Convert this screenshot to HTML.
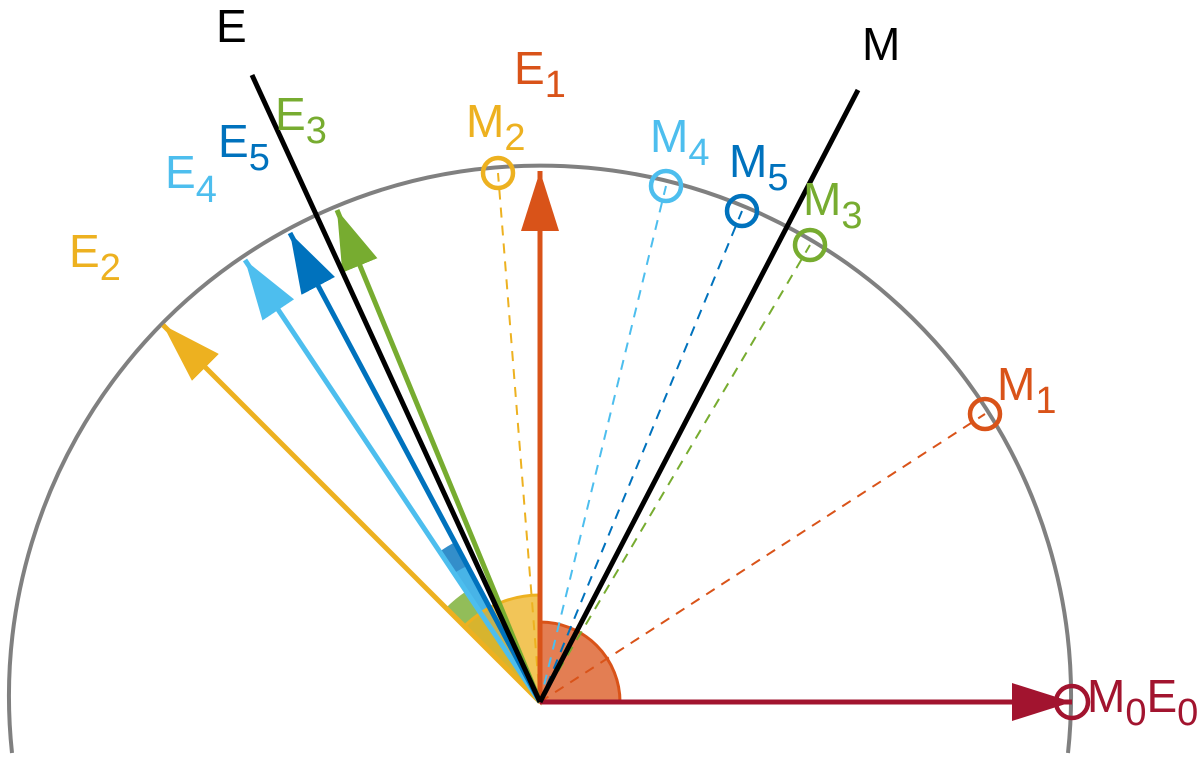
<!DOCTYPE html>
<html><head><meta charset="utf-8"><style>html,body{margin:0;padding:0;background:#fff}svg{display:block}</style></head>
<body>
<svg width="1200" height="765" viewBox="0 0 1200 765" xmlns="http://www.w3.org/2000/svg" font-family="Liberation Sans, Arial, sans-serif">
<defs>
<marker id="a0" markerUnits="userSpaceOnUse" markerWidth="62" markerHeight="38" refX="60" refY="19" orient="auto"><path d="M0,0 L60,19 L0,38 z" fill="#a2142f"/></marker>
<marker id="a1" markerUnits="userSpaceOnUse" markerWidth="62" markerHeight="38" refX="60" refY="19" orient="auto"><path d="M0,0 L60,19 L0,38 z" fill="#d95319"/></marker>
<marker id="a2" markerUnits="userSpaceOnUse" markerWidth="62" markerHeight="38" refX="60" refY="19" orient="auto"><path d="M0,0 L60,19 L0,38 z" fill="#edb120"/></marker>
<marker id="a3" markerUnits="userSpaceOnUse" markerWidth="62" markerHeight="38" refX="60" refY="19" orient="auto"><path d="M0,0 L60,19 L0,38 z" fill="#77ac30"/></marker>
<marker id="a4" markerUnits="userSpaceOnUse" markerWidth="62" markerHeight="38" refX="60" refY="19" orient="auto"><path d="M0,0 L60,19 L0,38 z" fill="#4dbeee"/></marker>
<marker id="a5" markerUnits="userSpaceOnUse" markerWidth="62" markerHeight="38" refX="60" refY="19" orient="auto"><path d="M0,0 L60,19 L0,38 z" fill="#0072bd"/></marker>
</defs>

<path d="M12,753 A531,531 0 1 1 1068,753" fill="none" stroke="#808080" stroke-width="4"/>

<path d="M540,702 L454.7,542.3 A181,181 0 0 0 439.6,551.5 Z" fill="#0072bd" fill-opacity="0.8"/>
<path d="M540,702 L467.4,565.8 A155,155 0 0 0 454.0,573.1 Z" fill="#4dbeee" fill-opacity="0.8"/>
<path d="M540,702 L466.2,591.3 A133,133 0 0 0 445.6,608.3 Z" fill="#77ac30" fill-opacity="0.8"/>
<path d="M540,702 L540,595 A107,107 0 0 0 464.6,626.1 Z" fill="#edb120" fill-opacity="0.75" stroke="#edb120" stroke-width="3"/>
<path d="M540,702 L620,702 A80,80 0 0 0 540,622 Z" fill="#d95319" fill-opacity="0.75" stroke="#d95319" stroke-width="3"/>

<g stroke-width="2" stroke-dasharray="10,8" fill="none">
<line x1="540" y1="702" x2="498" y2="173" stroke="#edb120"/>
<line x1="540" y1="702" x2="666" y2="186" stroke="#4dbeee"/>
<line x1="540" y1="702" x2="742" y2="211" stroke="#0072bd"/>
<line x1="540" y1="702" x2="810" y2="245" stroke="#77ac30"/>
<line x1="540" y1="702" x2="985" y2="414" stroke="#d95319"/>
</g>

<g stroke-width="5" fill="none">
<line x1="540" y1="702" x2="1072" y2="702" stroke="#a2142f" marker-end="url(#a0)"/>
<line x1="540" y1="702" x2="540" y2="171" stroke="#d95319" marker-end="url(#a1)"/>
<line x1="540" y1="702" x2="163" y2="325" stroke="#edb120" marker-end="url(#a2)"/>
<line x1="540" y1="702" x2="245" y2="260" stroke="#4dbeee" marker-end="url(#a4)"/>
<line x1="540" y1="702" x2="290" y2="233" stroke="#0072bd" marker-end="url(#a5)"/>
<line x1="540" y1="702" x2="337" y2="210" stroke="#77ac30" marker-end="url(#a3)"/>
</g>

<line x1="540" y1="702" x2="252" y2="75" stroke="#000" stroke-width="5"/>
<line x1="540" y1="702" x2="858" y2="90" stroke="#000" stroke-width="5"/>

<g fill="none" stroke-width="4.5">
<circle cx="498" cy="173" r="15" stroke="#edb120"/>
<circle cx="666" cy="186" r="15" stroke="#4dbeee"/>
<circle cx="742" cy="211" r="15" stroke="#0072bd"/>
<circle cx="810" cy="245" r="15" stroke="#77ac30"/>
<circle cx="985" cy="414" r="15" stroke="#d95319"/>
<circle cx="1072" cy="702" r="16" stroke="#a2142f"/>
</g>

<g font-size="46">
<text x="216" y="42" fill="#000">E</text>
<text x="862" y="60" fill="#000">M</text>
<text x="514" y="84" fill="#d95319">E<tspan font-size="38" dy="13">1</tspan></text>
<text x="275" y="130" fill="#77ac30">E<tspan font-size="38" dy="13">3</tspan></text>
<text x="218" y="157" fill="#0072bd">E<tspan font-size="38" dy="13">5</tspan></text>
<text x="165" y="188" fill="#4dbeee">E<tspan font-size="38" dy="14">4</tspan></text>
<text x="69" y="267" fill="#edb120">E<tspan font-size="38" dy="13">2</tspan></text>
<text x="466" y="137" fill="#edb120">M<tspan font-size="38" dy="13">2</tspan></text>
<text x="650" y="152" fill="#4dbeee">M<tspan font-size="38" dy="13">4</tspan></text>
<text x="729" y="177" fill="#0072bd">M<tspan font-size="38" dy="13">5</tspan></text>
<text x="803" y="215" fill="#77ac30">M<tspan font-size="38" dy="13">3</tspan></text>
<text x="997" y="400" fill="#d95319">M<tspan font-size="38" dy="13">1</tspan></text>
<text x="1087" y="712" fill="#a2142f">M<tspan font-size="38" dy="13">0</tspan><tspan dy="-13">E</tspan><tspan font-size="38" dy="13">0</tspan></text>
</g>
</svg>
</body></html>
